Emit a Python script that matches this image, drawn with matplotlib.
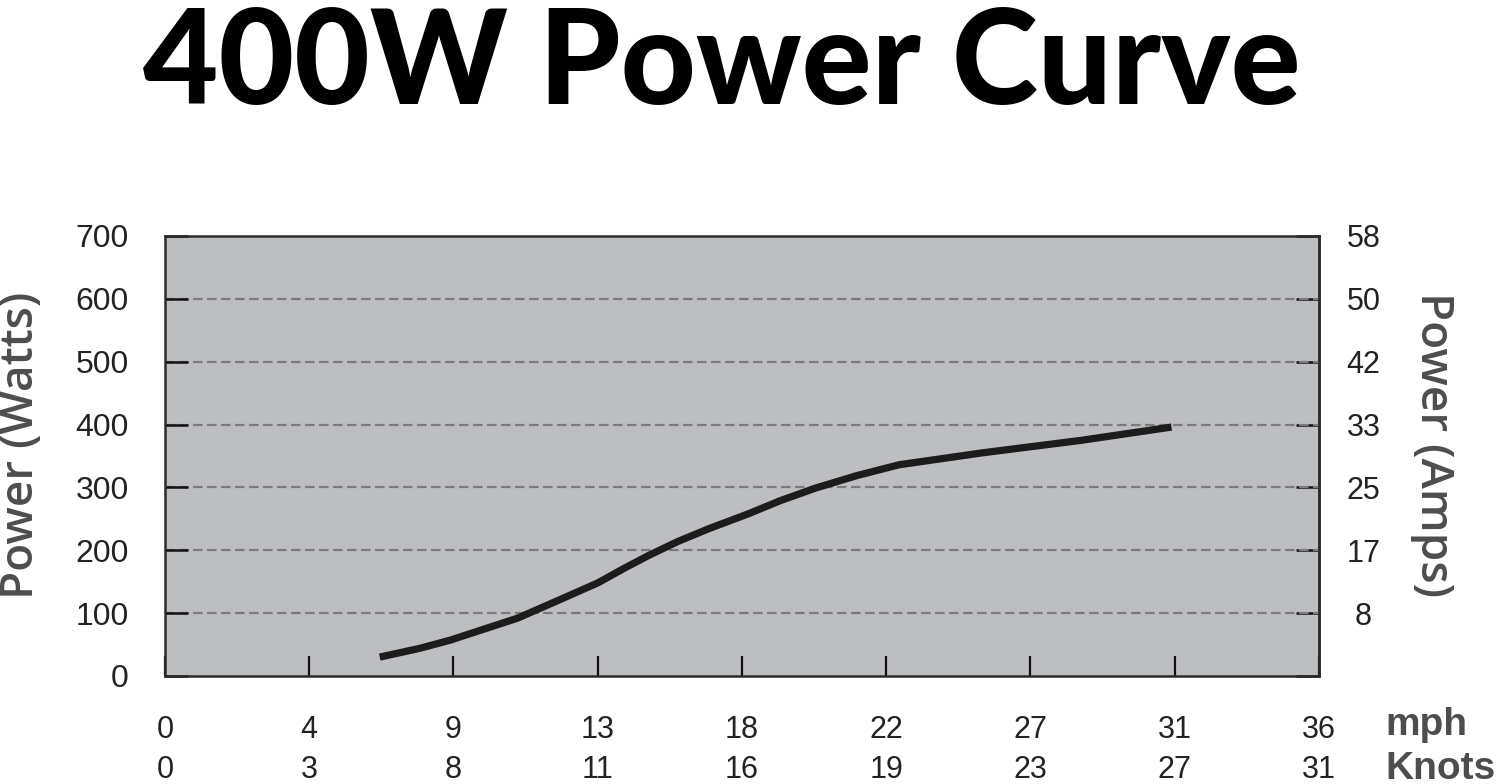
"""400W wind turbine power curve (watts vs wind speed in mph / knots)."""

import numpy as np
import matplotlib.pyplot as plt

# ---- data ----
title = "400W Power Curve"

wind_mph = [6.7, 7.95, 8.9, 11.0, 12.3, 13.5, 14.35, 15.1, 16.0, 17.0, 18.2,
            19.2, 20.3, 21.6, 22.9, 25.5, 28.6, 31.4]
power_w = [30, 44, 57, 92, 121, 148, 172, 192, 214, 235, 258,
           279, 299, 319, 336, 355, 375, 396]

mph_labels = ['0', '4', '9', '13', '18', '22', '27', '31', '36']
knot_labels = ['0', '3', '8', '11', '16', '19', '23', '27', '31']
watt_ticks = [0, 100, 200, 300, 400, 500, 600, 700]
amp_labels = ['', '8', '17', '25', '33', '42', '50', '58']

# ---- styling ----
BG = '#bdbec1'
GRID = '#7c7c7e'
LABEL_GRAY = '#4d4d4d'
SANS = ['Liberation Sans', 'DejaVu Sans']

fig = plt.figure(figsize=(15, 7.84), dpi=100)
ax = fig.add_axes([0.11, 0.1378, 0.7693, 0.5612])
ax.set_facecolor(BG)

x_max = float(mph_labels[-1])
x_pos = np.linspace(0, x_max, len(mph_labels))
ax.set_xlim(0, x_max)
ax.set_ylim(watt_ticks[0], watt_ticks[-1])

# dashed gridlines (inner ones only)
for w in watt_ticks[1:-1]:
    ax.axhline(w, color=GRID, lw=1.6, ls=(0, (4.3, 2.0)), zorder=1)

ax.plot(wind_mph, power_w, color='#1c1c1c', lw=5.2,
        solid_capstyle='butt', solid_joinstyle='round', zorder=3)

for s in ax.spines.values():
    s.set_color('#2b2b2b')
    s.set_linewidth(1.8)

# left axis: watts
ax.set_yticks(watt_ticks, [str(w) for w in watt_ticks])
ax.tick_params(axis='y', direction='in', length=16.5, width=1.8,
               color='#111111', pad=26, labelsize=23, labelcolor='#222222')
for lbl in ax.get_yticklabels():
    lbl.set_family(SANS)

# bottom axis: mph
ax.set_xticks(x_pos, mph_labels)
ax.tick_params(axis='x', direction='in', length=14.5, width=1.6,
               color='#111111', pad=28, labelsize=22, labelcolor='#222222')
for lbl in ax.get_xticklabels():
    lbl.set_family(SANS)

# second row: knots
sec_x = ax.secondary_xaxis('bottom')
sec_x.set_xticks(x_pos, knot_labels)
sec_x.tick_params(length=0, pad=57, labelsize=22, labelcolor='#222222')
sec_x.spines['bottom'].set_visible(False)
for lbl in sec_x.get_xticklabels():
    lbl.set_family(SANS)

# right axis: amps
sec_y = ax.secondary_yaxis('right')
sec_y.set_yticks(watt_ticks, amp_labels)
sec_y.tick_params(direction='in', length=16.5, width=1.8, color='#111111',
                  pad=32, labelsize=22, labelcolor='#222222')
sec_y.spines['right'].set_color('#2b2b2b')
sec_y.spines['right'].set_linewidth(1.8)
for lbl in sec_y.get_yticklabels():
    lbl.set_family(SANS)
    lbl.set_horizontalalignment('center')

# axis titles
fig.text(22 / 1500, 1 - 445 / 784, 'Power (Watts)', rotation=90,
         ha='center', va='center', fontsize=33, color=LABEL_GRAY,
         family='Open Sans', weight='semibold')
fig.text(1433 / 1500, 1 - 445 / 784, 'Power (Amps)', rotation=270,
         ha='center', va='center', fontsize=33, color=LABEL_GRAY,
         family='Open Sans', weight='semibold')

fig.text(1385 / 1500, 1 - 735 / 784, 'mph', ha='left', va='baseline',
         fontsize=28, color=LABEL_GRAY, family=SANS, weight='bold')
fig.text(1385 / 1500, 1 - 779 / 784, 'Knots', ha='left', va='baseline',
         fontsize=28, color=LABEL_GRAY, family=SANS, weight='bold')

# headline
fig.text(722 / 1500, 1 - 104 / 784, title, ha='center', va='baseline',
         fontsize=94, color='black', family='Lato', weight='black')

fig.savefig('out.png', dpi=100)
